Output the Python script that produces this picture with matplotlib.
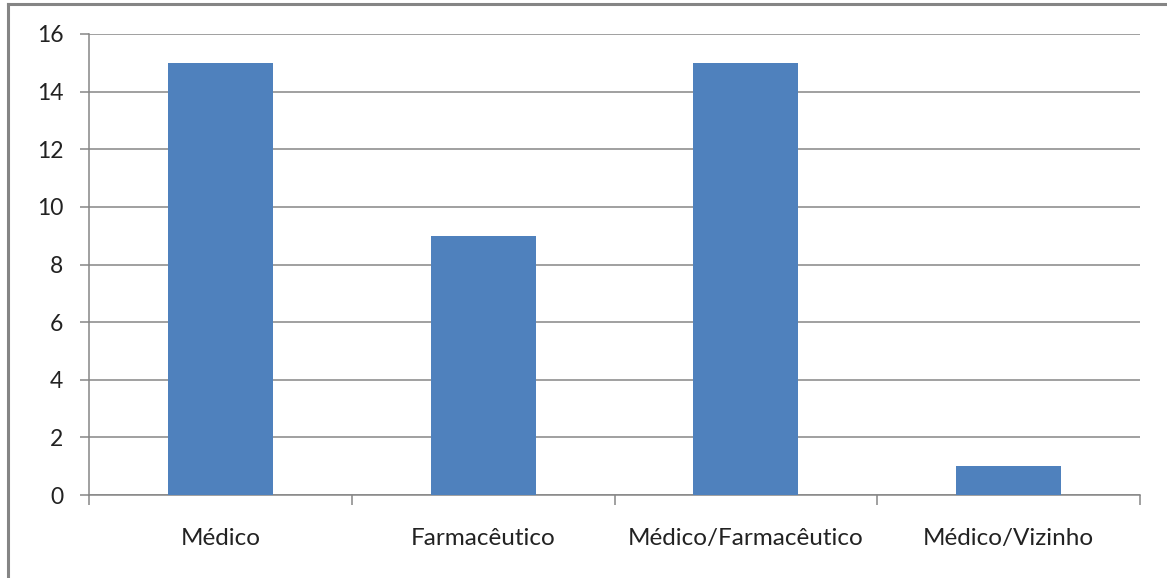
import matplotlib.pyplot as plt
from matplotlib.lines import Line2D
import numpy as np

# -- Data --
categories = ["Médico", "Farmacêutico", "Médico/Farmacêutico", "Médico/Vizinho"]
counts = [15, 9, 15, 1]
y_ticks = [0, 2, 4, 6, 8, 10, 12, 14, 16]

plt.rcParams['font.family'] = ['Lato', 'DejaVu Sans']

fig = plt.figure(figsize=(11.67, 5.78), dpi=100)
W, H = 1167, 578
ax = fig.add_axes([89 / W, (H - 495) / H, (1140 - 89) / W, (495 - 34) / H])

x = np.arange(len(categories))
ax.bar(x, counts, width=0.4, color='#4F81BD', zorder=3)

grid_col = '#868686'
ax.set_xlim(-0.5, len(categories) - 0.5)
ax.set_ylim(0, 16)
ax.set_yticks(y_ticks)
ax.set_yticklabels([str(v) for v in y_ticks], fontsize=16.5, color='#222222')
ax.yaxis.grid(True, color=grid_col, linewidth=1.1, zorder=0)

# category labels centred, tick marks on the boundaries
ax.set_xticks(x)
ax.set_xticklabels(categories, fontsize=17.5, color='#222222')
ax.tick_params(axis='x', length=0, pad=24)
ax.set_xticks(np.arange(-0.5, len(categories)), minor=True)
ax.tick_params(axis='x', which='minor', length=7, width=1.1, color=grid_col, direction='out')
ax.tick_params(axis='y', length=6.5, width=1.1, color=grid_col, pad=12)

for side in ['top', 'right']:
    ax.spines[side].set_visible(False)
for side in ['left', 'bottom']:
    ax.spines[side].set_color(grid_col)
    ax.spines[side].set_linewidth(1.1)

# outer chart frame
fig.add_artist(Line2D([8 / W, 1.0], [1 - 4 / H, 1 - 4 / H], color='#858585', linewidth=2.2, transform=fig.transFigure))
fig.add_artist(Line2D([8 / W, 8 / W], [0, 1 - 4 / H], color='#858585', linewidth=2.2, transform=fig.transFigure))

fig.savefig('out.png', dpi=100)
